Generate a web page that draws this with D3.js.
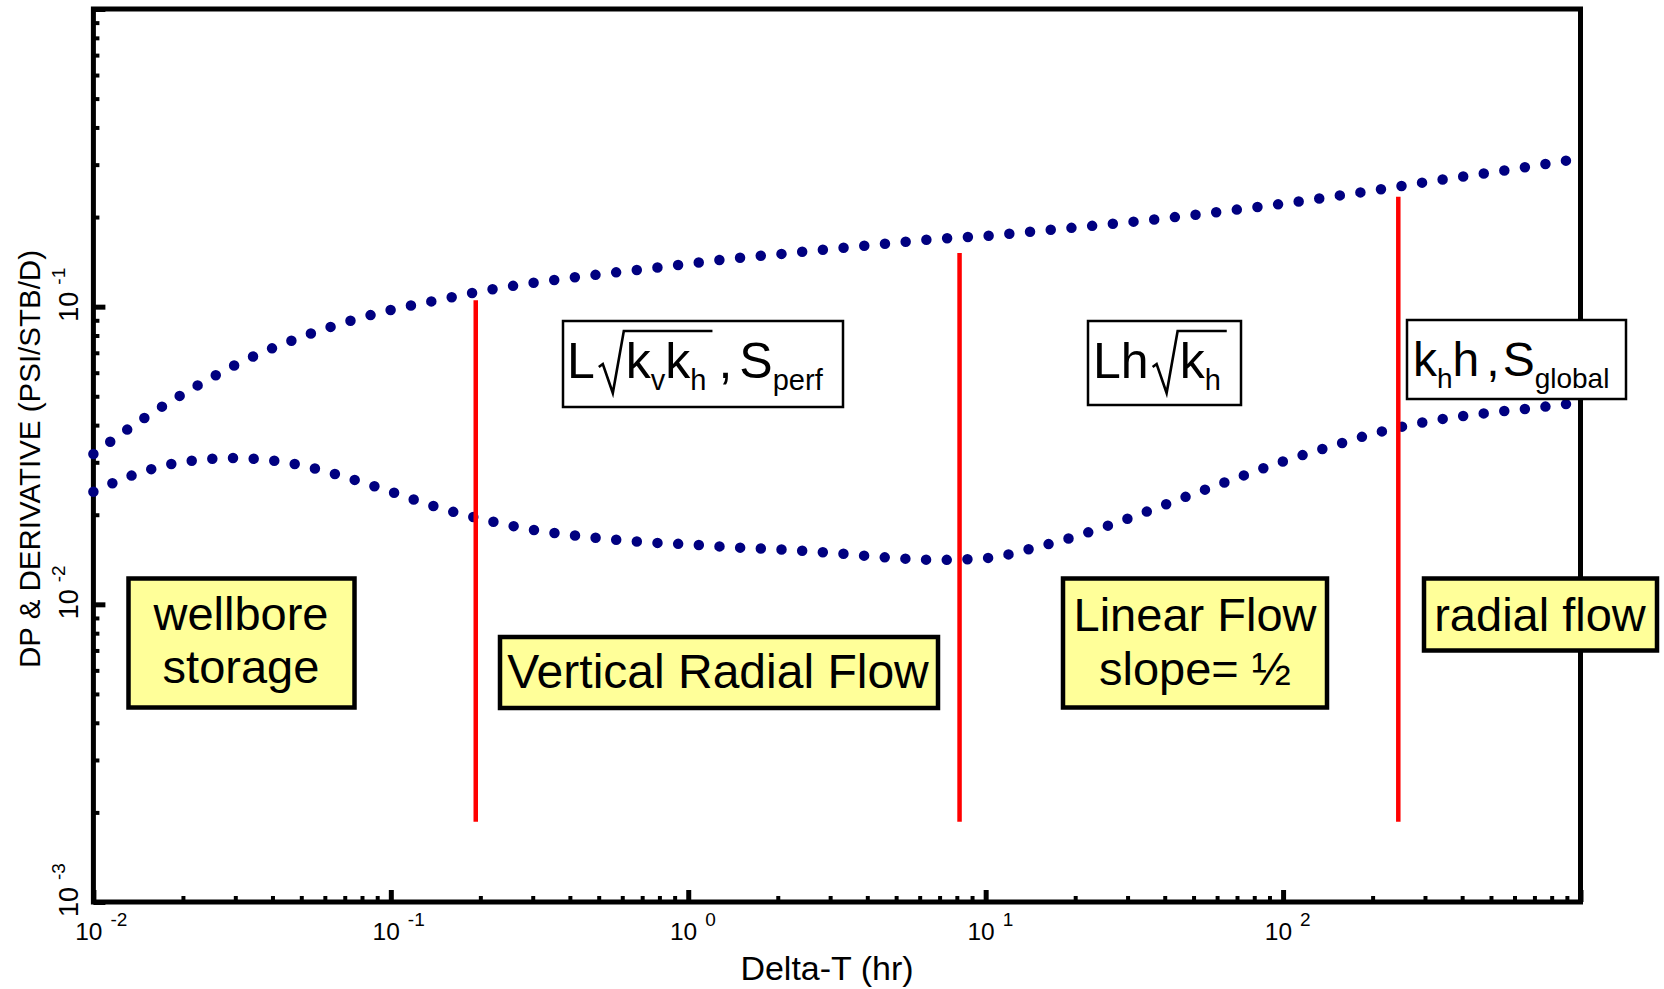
<!DOCTYPE html>
<html>
<head>
<meta charset="utf-8">
<script src="https://cdn.jsdelivr.net/npm/d3@7"></script>
<style>
  html, body { margin: 0; padding: 0; background: #fff; }
  svg { display: block; font-family: "Liberation Sans", Arial, sans-serif; }
</style>
</head>
<body>
<svg id="chart" width="1664" height="989"></svg>
<script>
const deltaT = [0.01, 0.015, 0.02, 0.03, 0.05, 0.07, 0.1, 0.15, 0.2, 0.3, 0.5, 0.7,
  1, 1.5, 2, 3, 5, 7, 10, 15, 20, 30, 50, 70, 100, 150, 200, 300, 500, 700, 900];
// pressure change DP (PSI/STB/D)
const dp = [0.0320, 0.0426, 0.0509, 0.0637, 0.0791, 0.0885, 0.0975, 0.1061, 0.1125, 0.1202,
  0.1283, 0.1335, 0.1394, 0.1461, 0.1500, 0.1562, 0.1641, 0.1692, 0.1728, 0.1796, 0.1845,
  0.1921, 0.2033, 0.2119, 0.2218, 0.2353, 0.2455, 0.2619, 0.2823, 0.2973, 0.3098];
// pressure derivative
const derivative = [0.0239, 0.0281, 0.0301, 0.0310, 0.0293, 0.0268, 0.0239, 0.0209, 0.0194,
  0.0178, 0.0167, 0.0162, 0.0159, 0.0155, 0.0153, 0.0149, 0.0143, 0.0141, 0.0143, 0.0156,
  0.0169, 0.0194, 0.0235, 0.0266, 0.0302, 0.0343, 0.0374, 0.0410, 0.0441, 0.0457, 0.0471];

// flow regime boundaries (red lines)
const boundaryT = [0.193, 8.17, 244];
const boundaryTop = [0.105, 0.1515, 0.234];
const boundaryBottom = 0.00186;

const xExponents = [-2, -1, 0, 1, 2];
const yExponents = [-3, -2, -1];

const regimeLabels = [["wellbore", "storage"], ["Vertical Radial Flow"], ["Linear Flow", "slope= \u00bd"], ["radial flow"]];

// boxes: layout only
const regimeBoxes = [
  {x: 128.5, y: 578.5, w: 226, h: 129, cx: 241, base: [630, 683]},
  {x: 500, y: 637, w: 438, h: 71, cx: 718, base: [688]},
  {x: 1063, y: 578.5, w: 264, h: 129, cx: 1195, base: [631, 685]},
  {x: 1424, y: 578.5, w: 233, h: 72, cx: 1540, base: [631]}
];

const svg = d3.select("#chart");
const x = d3.scaleLog().domain([0.01, 1000]).range([93.4, 1580.5]);
const y = d3.scaleLog().domain([0.001, 1]).range([902, 9]);

const isMajor = v => Math.abs(Math.log10(v) - Math.round(Math.log10(v))) < 1e-6;

// ticks (inside)
function ticks(axis, vals, size, width, tr) {
  svg.append("g").attr("transform", tr)
    .call(axis.tickValues(vals).tickSize(-size).tickFormat(""))
    .call(g => g.select(".domain").remove())
    .selectAll("line").attr("stroke", "#000").attr("stroke-width", width);
}
ticks(d3.axisBottom(x), x.ticks().filter(v => !isMajor(v)), 6, 4, "translate(0,902)");
ticks(d3.axisBottom(x), x.ticks().filter(isMajor), 12, 5, "translate(0,902)");
ticks(d3.axisLeft(y), y.ticks().filter(v => !isMajor(v)), 6, 4, "translate(93.4,0)");
ticks(d3.axisLeft(y), y.ticks().filter(isMajor), 12, 5, "translate(93.4,0)");

// frame
svg.append("rect")
  .attr("x", x.range()[0]).attr("y", y.range()[1])
  .attr("width", x.range()[1] - x.range()[0]).attr("height", y.range()[0] - y.range()[1])
  .attr("fill", "none").attr("stroke", "#000").attr("stroke-width", 5);

// x tick labels
xExponents.forEach(e => {
  const px = x(Math.pow(10, e));
  svg.append("text").attr("x", px + 9).attr("y", 940).attr("text-anchor", "end")
    .attr("font-size", 24.5).text("10");
  svg.append("text").attr("x", px + 17).attr("y", 926)
    .attr("font-size", 19).text(String(e));
});

// y tick labels (rotated)
yExponents.forEach(e => {
  const g = svg.append("g").attr("transform", `translate(78,${y(Math.pow(10, e))}) rotate(-90)`);
  g.append("text").attr("x", 0).attr("y", 0).attr("text-anchor", "middle")
    .attr("font-size", 27).text("10");
  g.append("text").attr("x", 22).attr("y", -13).attr("font-size", 19).text(String(e));
});

// axis titles
svg.append("text").attr("x", 827).attr("y", 980).attr("text-anchor", "middle")
  .attr("font-size", 34).text("Delta-T (hr)");
svg.append("text").attr("transform", "translate(40,459) rotate(-90)")
  .attr("text-anchor", "middle").attr("font-size", 29.5).text("DP & DERIVATIVE (PSI/STB/D)");

// dotted curves, dot spacing stretched so both ends get a dot
const line = d3.line().x(d => x(d[0])).y(d => y(d[1])).curve(d3.curveMonotoneX);
[dp, derivative].forEach(series => {
  const path = svg.append("path")
    .datum(deltaT.map((t, i) => [t, series[i]]))
    .attr("d", line)
    .attr("fill", "none").attr("stroke", "#000080")
    .attr("stroke-width", 10.5).attr("stroke-linecap", "round");
  const len = path.node().getTotalLength();
  const step = (len - 1) / Math.round(len / 20.7);
  path.attr("stroke-dasharray", `0 ${step}`);
});

// boundaries
svg.selectAll(".boundary").data(boundaryT).join("line")
  .attr("class", "boundary")
  .attr("x1", d => x(d)).attr("x2", d => x(d))
  .attr("y1", (d, i) => y(boundaryTop[i])).attr("y2", y(boundaryBottom))
  .attr("stroke", "#ff0000").attr("stroke-width", 4.5);

// regime labels
regimeBoxes.forEach((b, i) => {
  svg.append("rect").attr("x", b.x).attr("y", b.y).attr("width", b.w).attr("height", b.h)
    .attr("fill", "#ffff99").attr("stroke", "#000").attr("stroke-width", 4.5);
  regimeLabels[i].forEach((t, j) => {
    svg.append("text").attr("x", b.cx).attr("y", b.base[j]).attr("text-anchor", "middle")
      .attr("font-size", i === 1 ? 48 : 47).text(t);
  });
});

// parameter boxes with formulas
const formulas = [
  {box: [563, 321, 280, 86], x0: 567, base: 378, parts: [
    {t: "L"}, {rad: "open"}, {t: "k"}, {t: "v", sub: true}, {t: "k"}, {t: "h", sub: true},
    {rad: "close"}, {gap: 6}, {t: ","}, {gap: 7}, {t: "S"}, {t: "perf", sub: true}]},
  {box: [1088, 321, 153, 84], x0: 1093, base: 378, parts: [
    {t: "L"}, {t: "h"}, {rad: "open"}, {t: "k"}, {t: "h", sub: true}, {rad: "close"}]},
  {box: [1407, 320, 219, 79], x0: 1413, base: 376, parts: [
    {t: "k"}, {t: "h", sub: true}, {t: "h"}, {gap: 7}, {t: ","}, {gap: 3}, {t: "S"}, {t: "global", sub: true}]}
];

formulas.forEach((f, fi) => {
  svg.append("rect").attr("x", f.box[0]).attr("y", f.box[1]).attr("width", f.box[2]).attr("height", f.box[3])
    .attr("fill", "#fff").attr("stroke", "#000").attr("stroke-width", 2.5);
  const big = fi === 2 ? 48 : 50, small = fi === 2 ? 28 : 29;
  let cx = f.x0, r0 = 0;
  const b = f.base;
  f.parts.forEach(p => {
    if (p.gap) { cx += p.gap; return; }
    if (p.rad === "open") { r0 = cx + 4; cx = r0 + 27; return; }
    if (p.rad === "close") {
      const end = cx + 6;
      svg.append("path")
        .attr("d", `M${r0},${b - 11}L${r0 + 4},${b - 14}L${r0 + 14},${b + 15}L${r0 + 25},${b - 47}H${end}`)
        .attr("fill", "none").attr("stroke", "#000").attr("stroke-width", 2.6);
      cx = end;
      return;
    }
    const t = svg.append("text").attr("x", cx).attr("y", p.sub ? b + 12 : b)
      .attr("font-size", p.sub ? small : big).text(p.t);
    cx += t.node().getComputedTextLength();
  });
});
</script>
</body>
</html>
